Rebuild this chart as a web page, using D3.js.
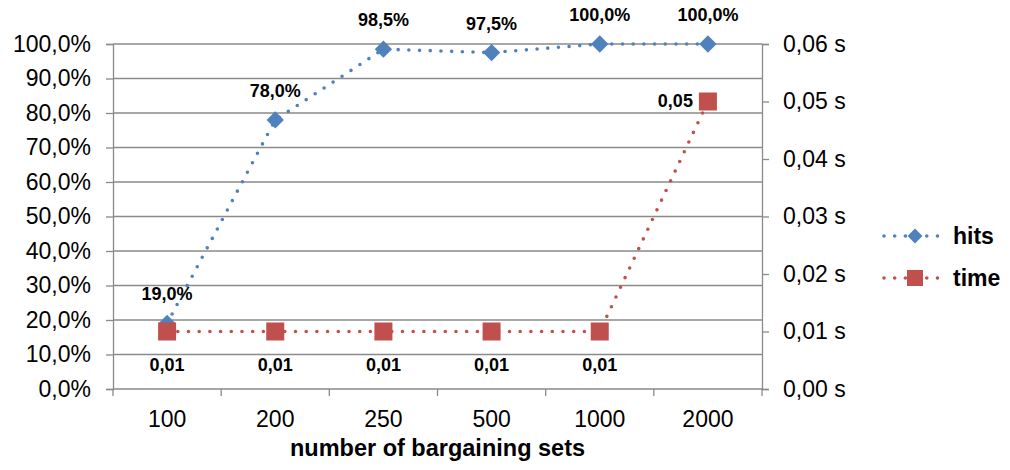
<!DOCTYPE html>
<html>
<head>
<meta charset="utf-8">
<script src="https://cdn.jsdelivr.net/npm/d3@7/dist/d3.min.js"></script>
<style>
  html, body { margin: 0; padding: 0; background: #fff; }
  svg { display: block; font-family: "Liberation Sans", Arial, sans-serif; }
</style>
</head>
<body>
<svg id="chart" width="1010" height="470"></svg>
<script>
// Categories: number of bargaining sets
const categories = ["100", "200", "250", "500", "1000", "2000"];
// Hit rate (fraction) per category
const hits = [0.19, 0.78, 0.985, 0.975, 1.0, 1.0];
// Computation time in seconds per category
const times = [0.01, 0.01, 0.01, 0.01, 0.01, 0.05];
// Axis ticks
const leftTicks = [0, 0.1, 0.2, 0.3, 0.4, 0.5, 0.6, 0.7, 0.8, 0.9, 1.0];
const rightTicks = [0, 0.01, 0.02, 0.03, 0.04, 0.05, 0.06];
const seriesNames = ["hits", "time"];

const blue = "#4F81BD", red = "#C0504D", grid = "#8a8a8a";
const axisFont = 23, labelFont = 18;
const svg = d3.select("#chart");
const plot = { left: 113, right: 762, top: 44, bottom: 389 };

const x = d3.scaleBand().domain(categories).range([plot.left, plot.right]);
const yL = d3.scaleLinear().domain([0, 1]).range([plot.bottom, plot.top]);
const yR = d3.scaleLinear().domain([0, 0.06]).range([plot.bottom, plot.top]);
const cx = d => x(d) + x.bandwidth() / 2;

const pct = v => d3.format(".1f")(v * 100).replace(".", ",") + "%";
const sec = v => d3.format(".2f")(v).replace(".", ",");

// Horizontal gridlines
svg.append("g").selectAll("line").data(leftTicks.slice(1)).join("line")
  .attr("x1", plot.left).attr("x2", plot.right)
  .attr("y1", d => yL(d)).attr("y2", d => yL(d))
  .attr("stroke", grid).attr("stroke-width", 1.3);

// Left axis
const gL = svg.append("g").attr("transform", `translate(${plot.left},0)`)
  .call(d3.axisLeft(yL).tickValues(leftTicks).tickFormat(pct).tickSize(7).tickPadding(15));
// Right axis
const gR = svg.append("g").attr("transform", `translate(${plot.right},0)`)
  .call(d3.axisRight(yR).tickValues(rightTicks).tickFormat(v => sec(v) + " s").tickSize(7).tickPadding(14));
// Bottom axis with ticks between categories
const gB = svg.append("g").attr("transform", `translate(0,${plot.bottom})`)
  .call(d3.axisBottom(x).tickSize(0).tickPadding(22));
gB.selectAll(".tick line").remove();
const bounds = categories.map(c => x(c)).concat([plot.right]);
gB.append("g").selectAll("line").data(bounds).join("line")
  .attr("x1", d => d).attr("x2", d => d).attr("y1", 0).attr("y2", 7)
  .attr("stroke", grid).attr("stroke-width", 1.3);

[gL, gR, gB].forEach(g => {
  g.attr("font-size", axisFont).attr("font-family", "'Liberation Sans', Arial, sans-serif");
  g.selectAll(".domain").attr("stroke", grid).attr("stroke-width", 1.3);
  g.selectAll(".tick line").attr("stroke", grid).attr("stroke-width", 1.3);
  g.selectAll("text").attr("font-size", axisFont).attr("fill", "#000");
});
gB.select(".domain").attr("d", `M${plot.left},0H${plot.right}`);

// X axis title
svg.append("text").attr("x", (plot.left + plot.right) / 2).attr("y", 456)
  .attr("text-anchor", "middle").attr("font-size", 23.5).attr("font-weight", "bold")
  .text("number of bargaining sets");

const dotted = (sel, color) => sel.attr("fill", "none").attr("stroke", color)
  .attr("stroke-width", 3.6).attr("stroke-linecap", "round").attr("stroke-dasharray", "0 10.7");

// Hits series
const hitsPts = categories.map((c, i) => ({ c, v: hits[i] }));
svg.append("path").datum(hitsPts)
  .attr("d", d3.line().x(d => cx(d.c)).y(d => yL(d.v)))
  .call(dotted, blue);
svg.append("g").selectAll("path").data(hitsPts).join("path")
  .attr("d", d3.symbol().type(d3.symbolSquare).size(150))
  .attr("transform", d => `translate(${cx(d.c)},${yL(d.v)}) rotate(45)`)
  .attr("fill", blue);
svg.append("g").selectAll("text").data(hitsPts).join("text")
  .attr("x", d => cx(d.c)).attr("y", d => yL(d.v) - 23)
  .attr("text-anchor", "middle").attr("font-size", labelFont).attr("font-weight", "bold")
  .text(d => pct(d.v));

// Time series
const timePts = categories.map((c, i) => ({ c, v: times[i] }));
svg.append("path").datum(timePts)
  .attr("d", d3.line().x(d => cx(d.c)).y(d => yR(d.v)))
  .call(dotted, red);
svg.append("g").selectAll("rect").data(timePts).join("rect")
  .attr("x", d => cx(d.c) - 9).attr("y", d => yR(d.v) - 9)
  .attr("width", 18).attr("height", 18).attr("fill", red);
const last = timePts.length - 1;
svg.append("g").selectAll("text").data(timePts).join("text")
  .attr("x", (d, i) => i === last ? cx(d.c) - 15 : cx(d.c))
  .attr("y", (d, i) => i === last ? yR(d.v) + 5 : yR(d.v) + 39)
  .attr("text-anchor", (d, i) => i === last ? "end" : "middle")
  .attr("font-size", labelFont).attr("font-weight", "bold")
  .text(d => sec(d.v));

// Legend
const legend = svg.append("g");
const legY = [236, 278];
seriesNames.forEach((name, i) => {
  const color = i === 0 ? blue : red;
  const y = legY[i];
  legend.append("line").attr("x1", 884).attr("x2", 940).attr("y1", y).attr("y2", y).call(dotted, color);
  if (i === 0) {
    legend.append("path").attr("d", d3.symbol().type(d3.symbolSquare).size(110))
      .attr("transform", `translate(915,${y}) rotate(45)`).attr("fill", color);
  } else {
    legend.append("rect").attr("x", 907).attr("y", y - 8).attr("width", 16).attr("height", 16).attr("fill", color);
  }
  legend.append("text").attr("x", 953).attr("y", y + 8).attr("font-size", 23)
    .attr("font-weight", "bold").text(name);
});
</script>
</body>
</html>
